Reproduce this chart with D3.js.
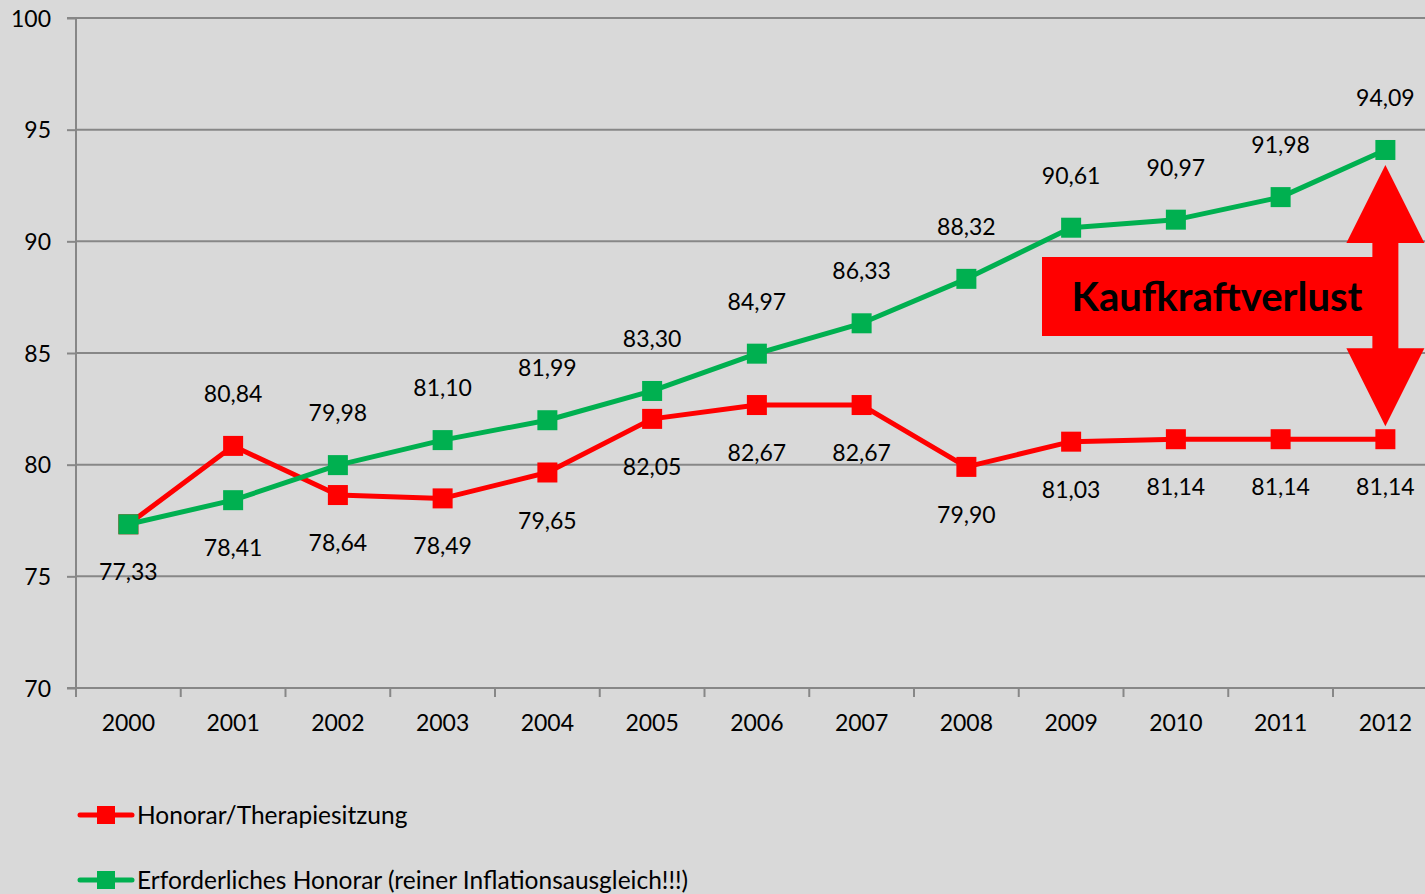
<!DOCTYPE html>
<html><head><meta charset="utf-8">
<script src="https://cdn.jsdelivr.net/npm/d3@7"></script>
<style>
html,body{margin:0;padding:0;background:#d9d9d9;}
svg{display:block;}
text{font-family:Lato,"Open Sans",sans-serif;fill:#000;}
</style></head>
<body>
<svg id="chart" width="1425" height="894"></svg>
<script>
const years = ["2000","2001","2002","2003","2004","2005","2006","2007","2008","2009","2010","2011","2012"];
const honorar = [77.33,80.84,78.64,78.49,79.65,82.05,82.67,82.67,79.90,81.03,81.14,81.14,81.14];
const erforderlich = [77.33,78.41,79.98,81.10,81.99,83.30,84.97,86.33,88.32,90.61,90.97,91.98,94.09];
const honorarLabelSide = ["none","above","below","below","below","below","below","below","below","below","below","below","below"];
const erforderlichLabelSide = ["below","below","above","above","above","above","above","above","above","above","above","above","above"];
const yTicks = [70,75,80,85,90,95,100];
const seriesNames = ["Honorar/Therapiesitzung","Erforderliches Honorar (reiner Inflationsausgleich!!!)"];
const annotation = "Kaufkraftverlust";

const svg = d3.select("#chart");
const W = 1425, H = 894;
const pLeft = 76, pTop = 18, pBottom = 688;
const bandW = 104.75;
const x = d3.scaleBand().domain(years).range([pLeft, pLeft + bandW*years.length]);
const y = d3.scaleLinear().domain([70,100]).range([pBottom, pTop]);
const cx = d => x(d) + x.bandwidth()/2;
const gridColor = "#878787";

svg.append("rect").attr("width",W).attr("height",H).attr("fill","#d9d9d9");

// gridlines
svg.append("g").selectAll("line").data(yTicks.filter(t=>t>70)).join("line")
  .attr("x1",pLeft).attr("x2",W).attr("y1",d=>y(d)).attr("y2",d=>y(d))
  .attr("stroke",gridColor).attr("stroke-width",2);

// y axis
const yAxis = d3.axisLeft(y).tickValues(yTicks).tickSize(9).tickPadding(16).tickFormat(d3.format("d"));
const gy = svg.append("g").attr("transform",`translate(${pLeft},0)`).call(yAxis);
gy.select(".domain").attr("stroke",gridColor).attr("stroke-width",2).attr("d",`M-9,${pTop}H0V${pBottom}H-9`);
gy.selectAll(".tick line").attr("stroke",gridColor).attr("stroke-width",2);
gy.selectAll(".tick text").style("font-size","23px").style("font-family","Lato, sans-serif").attr("fill","#000").attr("dy","0.35em");

// x axis
const gx = svg.append("g").attr("transform",`translate(0,${pBottom})`);
gx.append("line").attr("x1",pLeft).attr("x2",W).attr("y1",0).attr("y2",0).attr("stroke",gridColor).attr("stroke-width",2);
gx.selectAll("line.tk").data(years).join("line").attr("class","tk")
  .attr("x1",d=>x(d)).attr("x2",d=>x(d)).attr("y1",0).attr("y2",9)
  .attr("stroke",gridColor).attr("stroke-width",2);
gx.selectAll("text").data(years).join("text")
  .attr("x",d=>cx(d)).attr("y",43).attr("text-anchor","middle")
  .style("font-size","23px").text(d=>d);

const line = d3.line().x((d,i)=>cx(years[i])).y(d=>y(d));
const RED = "#ff0000", GREEN = "#00b050";
const ms = 20;

function drawSeries(vals, color){
  svg.append("path").datum(vals).attr("d",line).attr("fill","none")
    .attr("stroke",color).attr("stroke-width",5).attr("stroke-linejoin","round");
  svg.append("g").selectAll("rect").data(vals).join("rect")
    .attr("x",(d,i)=>cx(years[i])-ms/2).attr("y",d=>y(d)-ms/2)
    .attr("width",ms).attr("height",ms).attr("fill",color);
}
drawSeries(honorar, RED);
drawSeries(erforderlich, GREEN);

const fmt = v => v.toFixed(2).replace(".",",");
function drawLabels(vals, sides){
  const items = vals.map((v,i)=>({v, year:years[i], side:sides[i]})).filter(d=>d.side!=="none");
  svg.append("g").selectAll("text").data(items).join("text")
    .attr("x",d=>cx(d.year))
    .attr("y",d=>y(d.v) + (d.side==="above" ? -52 : 48))
    .attr("dy","0.35em").attr("text-anchor","middle")
    .style("font-size","23px").text(d=>fmt(d.v));
}
drawLabels(honorar, honorarLabelSide);
drawLabels(erforderlich, erforderlichLabelSide);

// annotation double arrow
const ax = cx("2012");
const topTip = y(94.09) + 15, botTip = y(81.14) - 13;
const headH = 78, headHalf = 39, shaftHalf = 13;
const arrow = d3.path();
arrow.moveTo(ax, topTip);
arrow.lineTo(ax+headHalf, topTip+headH);
arrow.lineTo(ax+shaftHalf, topTip+headH);
arrow.lineTo(ax+shaftHalf, botTip-headH);
arrow.lineTo(ax+headHalf, botTip-headH);
arrow.lineTo(ax, botTip);
arrow.lineTo(ax-headHalf, botTip-headH);
arrow.lineTo(ax-shaftHalf, botTip-headH);
arrow.lineTo(ax-shaftHalf, topTip+headH);
arrow.lineTo(ax-headHalf, topTip+headH);
arrow.closePath();
svg.append("path").attr("d",arrow.toString()).attr("fill",RED);
const boxTop = 257, boxBot = 336, boxLeft = 1042;
svg.append("rect").attr("x",boxLeft).attr("y",boxTop).attr("width",ax-boxLeft).attr("height",boxBot-boxTop).attr("fill",RED);
svg.append("text").attr("x",1217).attr("y",(boxTop+boxBot)/2).attr("dy","0.35em")
  .attr("text-anchor","middle").style("font-size","40px").style("font-weight","bold")
  .text(annotation);

// legend
const legend = svg.append("g");
[[RED,815],[GREEN,880]].forEach(([c,ly],i)=>{
  legend.append("line").attr("x1",80).attr("x2",132).attr("y1",ly).attr("y2",ly)
    .attr("stroke",c).attr("stroke-width",5).attr("stroke-linecap","round");
  legend.append("rect").attr("x",106-9).attr("y",ly-9).attr("width",18).attr("height",18).attr("fill",c);
  legend.append("text").attr("x",137).attr("y",ly).attr("dy","0.35em")
    .style("font-size","24.5px").text(seriesNames[i]);
});
</script>
</body></html>
